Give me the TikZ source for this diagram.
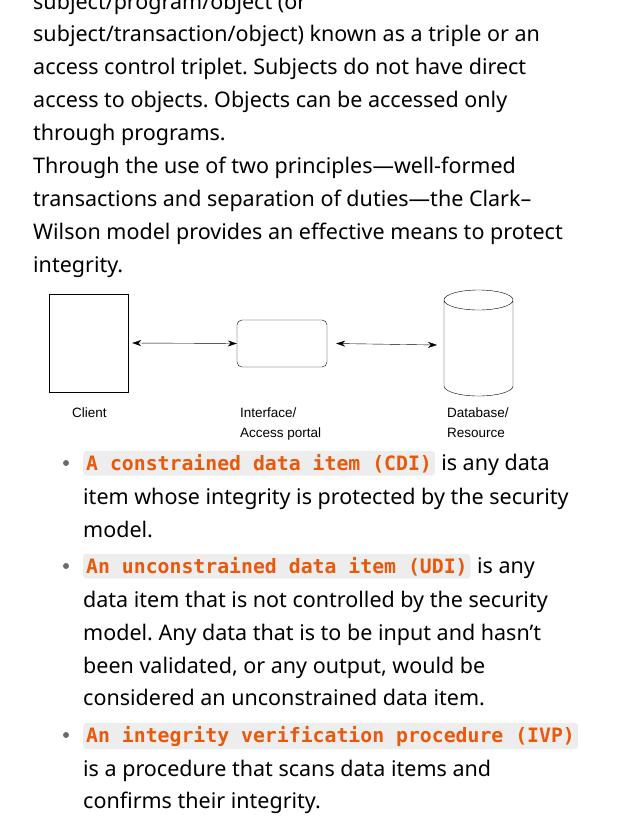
\documentclass[tikz,border=0pt]{standalone}
\usepackage{fontspec}
\setmainfont{Noto Sans}
\newfontfamily\codefont{DejaVu Sans Mono}
\newfontfamily\figfont{Liberation Sans}
\usetikzlibrary{arrows.meta}
\definecolor{codeorange}{HTML}{E8590C}
\definecolor{codegray}{HTML}{EDEDED}
\definecolor{dotgray}{HTML}{6B6B6B}
\tikzset{
  line/.style={anchor=base west, inner sep=0pt, font=\fontsize{21.5}{21.5}\selectfont},
  code/.style={anchor=base west, inner sep=3pt, fill=codegray, rounded corners=3pt,
    text=codeorange, font=\fontsize{19.8}{19.8}\selectfont\codefont\bfseries},
  figlabel/.style={anchor=base west, inner sep=0pt, font=\fontsize{13.5}{13.5}\selectfont\figfont},
  link/.style={{Stealth[length=9pt,width=6pt]}-{Stealth[length=9pt,width=6pt]}, thin}
}
\frenchspacing
\begin{document}
\begin{tikzpicture}[x=1pt,y=-1pt]
\useasboundingbox (0,0) rectangle (630,840);
% intro paragraph
\node[line] (t0) at (33,10) {subject/program/object (or};
\node[line] (t1) at (33,42) {subject/transaction/object) known as a triple or an};
\node[line] (t2) at (33,75) {access control triplet. Subjects do not have direct};
\node[line] (t3) at (33,108) {access to objects. Objects can be accessed only};
\node[line] (t4) at (33,140) {through programs.};
\node[line] (t5) at (33,173) {Through the use of two principles—well-formed};
\node[line] (t6) at (33,206) {transactions and separation of duties—the Clark–};
\node[line] (t7) at (33,239) {Wilson model provides an effective means to protect};
\node[line] (t8) at (33,272) {integrity.};
% figure
\node[draw, minimum width=79pt, minimum height=98pt] (client box) at (88.5,343) {};
\node[draw, rounded corners=5pt, minimum width=90pt, minimum height=47pt] (portal) at (282,343.5) {};
\draw (444,300) -- (444,386) arc[start angle=180, end angle=360, x radius=34.5pt, y radius=10pt]
  -- (513,300) arc[start angle=0, end angle=360, x radius=34.5pt, y radius=10pt];
\coordinate (db) at (437,345);
\draw[link] (client box.east) ++(4pt,0) -- (portal.west);
\draw[link] (portal.east) ++(9pt,0) -- (db);
\node[figlabel] (client) at (72,417) {Client};
\node[figlabel] (if1) at (240,417) {Interface/};
\node[figlabel] (if2) at (240,437) {Access portal};
\node[figlabel] (db1) at (447,417) {Database/};
\node[figlabel] (db2) at (447,437) {Resource};
% bullet list
\fill[dotgray] (66,463) circle (3pt);
\node[code] (cdi) at (83,470) {A constrained data item (CDI)};
\node[line] (b1a) at ([xshift=6pt]cdi.base east) {is any data};
\node[line] (b1b) at (83,504) {item whose integrity is protected by the security};
\node[line] (b1c) at (83,537) {model.};
\fill[dotgray] (66,566) circle (3pt);
\node[code] (udi) at (83,573) {An unconstrained data item (UDI)};
\node[line] (b2a) at ([xshift=6pt]udi.base east) {is any};
\node[line] (b2b) at (83,607) {data item that is not controlled by the security};
\node[line] (b2c) at (83,640) {model. Any data that is to be input and hasn't};
\node[line] (b2d) at (83,673) {been validated, or any output, would be};
\node[line] (b2e) at (83,705) {considered an unconstrained data item.};
\fill[dotgray] (66,735) circle (3pt);
\node[code] (ivp) at (83,742) {An integrity verification procedure (IVP)};
\node[line] (b3a) at (83,776) {is a procedure that scans data items and};
\node[line] (b3b) at (83,808) {confirms their integrity.};
\end{tikzpicture}
\end{document}
